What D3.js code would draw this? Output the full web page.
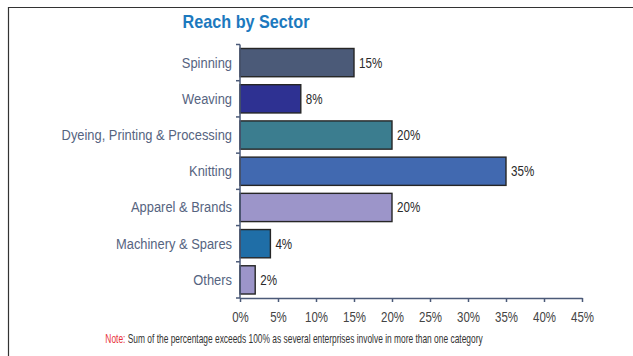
<!DOCTYPE html>
<html>
<head>
<meta charset="utf-8">
<script src="https://cdn.jsdelivr.net/npm/d3@7"></script>
<style>
  html, body { margin: 0; padding: 0; background: #fff; }
  svg { display: block; }
</style>
</head>
<body>
<svg id="chart" width="633" height="356"></svg>
<script>
// Reach by sector, percent of enterprises
const categories = ["Spinning", "Weaving", "Dyeing, Printing & Processing", "Knitting", "Apparel & Brands", "Machinery & Spares", "Others"];
const values = [15, 8, 20, 35, 20, 4, 2];
const barColors = ["#4b5a78", "#2e3192", "#3b7d8f", "#4169b0", "#9c95c9", "#1f6ea7", "#9c95c9"];
const xTicks = [0, 5, 10, 15, 20, 25, 30, 35, 40, 45];

const svg = d3.select("#chart");
const font = "'Liberation Sans', Arial, sans-serif";
const axisColor = "#4b5a78";

// condensed text: horizontal squeeze around the anchor point
function squeezed(parent, px, py, sx, str) {
  return parent.append("text")
    .attr("transform", `translate(${px},${py}) scale(${sx},1)`)
    .attr("font-family", font)
    .text(str);
}

// frame
svg.append("path")
  .attr("d", "M8.5,356 V7.5 H633")
  .attr("fill", "none").attr("stroke", "#333").attr("stroke-width", 1.2);

squeezed(svg, 246, 28, 0.9, "Reach by Sector")
  .attr("text-anchor", "middle")
  .attr("font-weight", "bold").attr("font-size", 18)
  .attr("fill", "#1c79be");

const x = d3.scaleLinear().domain([0, 45]).range([240, 582]);
const y = d3.scaleBand().domain(categories).range([44.5, 298]).paddingInner(0.22).paddingOuter(0.11);

// bars
svg.append("g").selectAll("rect")
  .data(categories)
  .join("rect")
  .attr("x", x(0))
  .attr("y", d => y(d))
  .attr("width", (d, i) => x(values[i]) - x(0))
  .attr("height", y.bandwidth())
  .attr("fill", (d, i) => barColors[i])
  .attr("stroke", "#262626").attr("stroke-width", 1.4);

// value labels
const vg = svg.append("g");
categories.forEach((c, i) => {
  squeezed(vg, x(values[i]) + 5, y(c) + y.bandwidth() / 2 + 5, 0.8, values[i] + "%")
    .attr("font-size", 14.5).attr("fill", "#2a2a2a");
});

// y axis: line with ticks at band boundaries
const yAxisG = svg.append("g");
yAxisG.append("line")
  .attr("x1", 240).attr("x2", 240).attr("y1", 44.5).attr("y2", 298)
  .attr("stroke", axisColor).attr("stroke-width", 1.5);
const edges = d3.range(categories.length + 1).map(i => 44.5 + i * (298 - 44.5) / categories.length);
yAxisG.selectAll("line.tk").data(edges).join("line").attr("class", "tk")
  .attr("x1", 236).attr("x2", 240).attr("y1", d => d).attr("y2", d => d)
  .attr("stroke", axisColor).attr("stroke-width", 1.5);
categories.forEach(c => {
  squeezed(yAxisG, 232, y(c) + y.bandwidth() / 2 + 5, 0.86, c)
    .attr("text-anchor", "end")
    .attr("font-size", 15)
    .attr("fill", "#56647f");
});

// x axis
const xAxis = d3.axisBottom(x).tickValues(xTicks).tickFormat(d => d + "%").tickSize(4).tickSizeOuter(0);
const xg = svg.append("g").attr("transform", "translate(0,298)").call(xAxis);
xg.select(".domain").attr("stroke", axisColor).attr("stroke-width", 1.5);
xg.selectAll(".tick line").attr("stroke", axisColor).attr("stroke-width", 1.5);
xg.selectAll(".tick text")
  .attr("font-family", font).attr("font-size", 14)
  .attr("fill", "#444").attr("dy", null).attr("y", 0)
  .attr("transform", "translate(0,24) scale(0.82,1)");

// footnote
const note = squeezed(svg, 294, 343, 0.7, "")
  .attr("text-anchor", "middle")
  .attr("font-size", 12)
  .attr("fill", "#333");
note.append("tspan").attr("fill", "#e8323a").text("Note: ");
note.append("tspan").text("Sum of the percentage exceeds 100% as several enterprises involve in more than one category");
</script>
</body>
</html>
